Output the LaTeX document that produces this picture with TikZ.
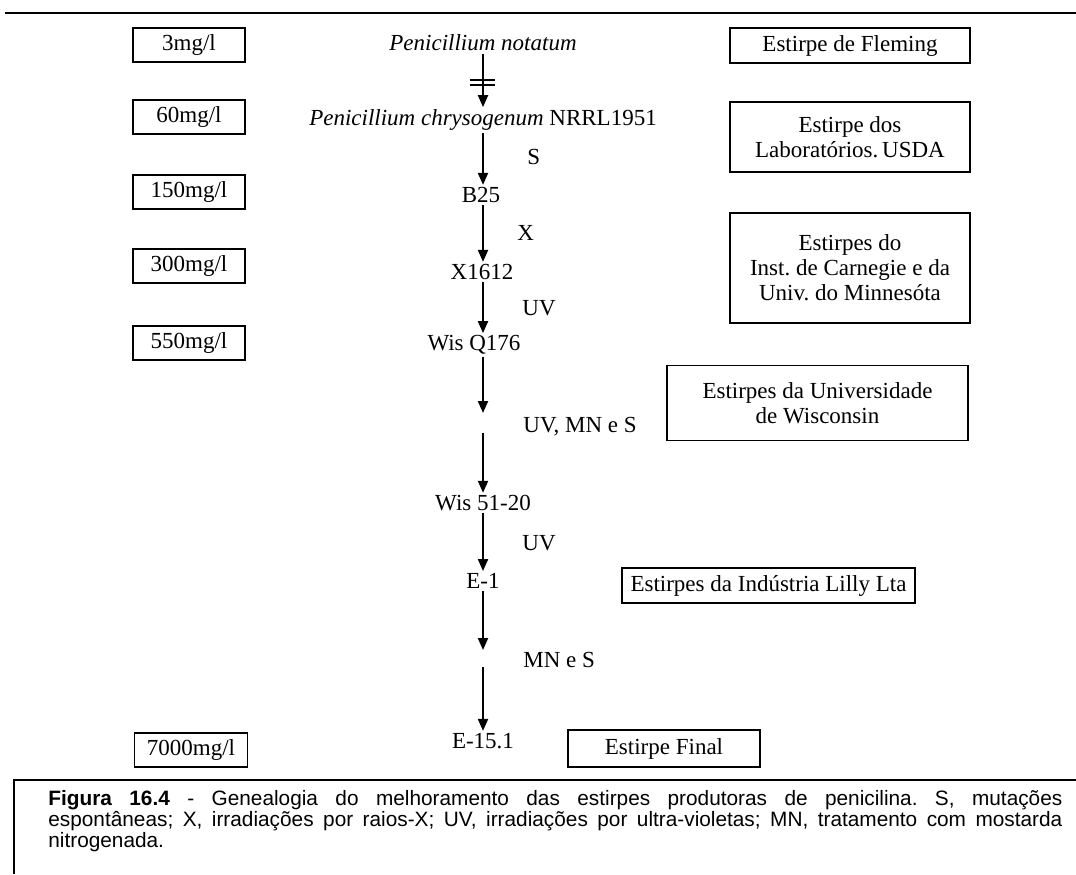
\documentclass[tikz,border=0pt]{standalone}
\usepackage{fontspec}
\setmainfont{Liberation Serif}
\newfontfamily\capfont{Liberation Sans}
\usetikzlibrary{arrows.meta,positioning}

\begin{document}
\begin{tikzpicture}[
    x=0.5pt, y=-0.5pt,
    font=\frenchspacing\fontsize{11.5}{12.5}\selectfont,
    yield/.style={draw, line width=0.9pt, minimum width=56pt, minimum height=17pt, inner sep=2pt},
    strain/.style={draw, line width=0.9pt, align=center, inner sep=3pt},
    stage/.style={inner sep=1pt},
    lab/.style={anchor=west, inner sep=0pt},
    arrow/.style={-{Triangle[length=6pt,width=5pt]}, line width=1pt}
]
    \useasboundingbox (0,0) rectangle (1076,874);

    % frame lines
    \draw[line width=1.2pt] (5,13) -- (1076,13);
    \draw[line width=1pt] (14,874) -- (14,780) -- (1076,780);

    % yields
    \node[yield] (y3) at (189,45) {3mg/l};
    \node[yield] (y60) at (189,117) {60mg/l};
    \node[yield] (y150) at (189,192) {150mg/l};
    \node[yield] (y300) at (189,266) {300mg/l};
    \node[yield] (y550) at (189,343) {550mg/l};
    \node[yield, minimum width=56.5pt] (y7000) at (191,750) {7000mg/l};

    % strains
    \node[stage] (notatum) at (483,43) {\itshape Penicillium notatum};
    \node[stage] (chryso) at (483,120) {{\itshape Penicillium chrysogenum} NRRL1951};
    \node[stage] (b25) at (481,195) {B25};
    \node[stage] (x1612) at (482,272) {X1612};
    \node[stage] (wisq) at (474,345) {Wis Q176};
    \node[stage] (wis5120) at (483,503) {Wis 51-20};
    \node[stage] (e1) at (483,581) {E-1};
    \node[stage] (e151) at (483,741) {E-15.1};

    \coordinate (gapa) at (483,413);
    \coordinate (gapb) at (483,433);
    \coordinate (gapc) at (483,650);
    \coordinate (gapd) at (483,667);

    % treatments
    \node[lab] (ls) at (527,157) {S};
    \node[lab] (lx) at (517,233) {X};
    \node[lab] (luv) at (522,308) {UV};
    \node[lab] (luvmns) at (523,427) {UV, MN e S};
    \node[lab] (luv2) at (522,543) {UV};
    \node[lab] (lmns) at (523,660) {MN e S};

    % origins
    \node[strain, minimum width=120pt, minimum height=17.5pt] (fleming) at (850,45.5) {Estirpe de Fleming};
    \node[strain, minimum width=120pt, minimum height=35pt] (usda) at (850,137) {Estirpe dos\\Laboratórios.\,USDA};
    \node[strain, minimum width=120pt, minimum height=55pt] (carnegie) at (850,268) {Estirpes do\\Inst. de Carnegie e da\\Univ. do Minnesóta};
    \node[strain, minimum width=150.5pt, minimum height=37.5pt] (wisc) at (817.5,403) {Estirpes da Universidade\\de Wisconsin};
    \node[strain, minimum width=146.5pt, minimum height=17.5pt] (lilly) at (768.5,585.5) {Estirpes da Indústria Lilly Lta};
    \node[strain, minimum width=96pt, minimum height=18.5pt] (final) at (664,748.5) {Estirpe Final};

    % lineage
    \draw[arrow] (notatum) -- (notatum |- chryso.north);
    \draw[line width=0.8pt] (470,80) -- (495,80) (470,85) -- (495,85);
    \draw[arrow] (chryso.south -| notatum) -- (b25.north -| notatum);
    \draw[arrow] (b25.south -| notatum) -- (x1612.north -| notatum);
    \draw[arrow] (x1612.south -| notatum) -- (wisq.north -| notatum);
    \draw[arrow] (wisq.south -| notatum) -- (gapa);
    \draw[arrow] (gapb) -- (wis5120);
    \draw[arrow] (wis5120) -- (e1);
    \draw[arrow] (e1) -- (gapc);
    \draw[arrow] (gapd) -- (e151);

    % caption
    \node[anchor=north west, inner sep=0pt, text width=507pt, align=justify,
          font=\capfont\frenchspacing\fontsize{10.4}{10.5}\selectfont] (caption) at (48,790)
    {\textbf{Figura 16.4} - Genealogia do melhoramento das estirpes produtoras de penicilina. S, mutações\linebreak
     espontâneas; X, irradiações por raios-X; UV, irradiações por ultra-violetas; MN, tratamento com mostarda\linebreak
     nitrogenada.};
\end{tikzpicture}
\end{document}
